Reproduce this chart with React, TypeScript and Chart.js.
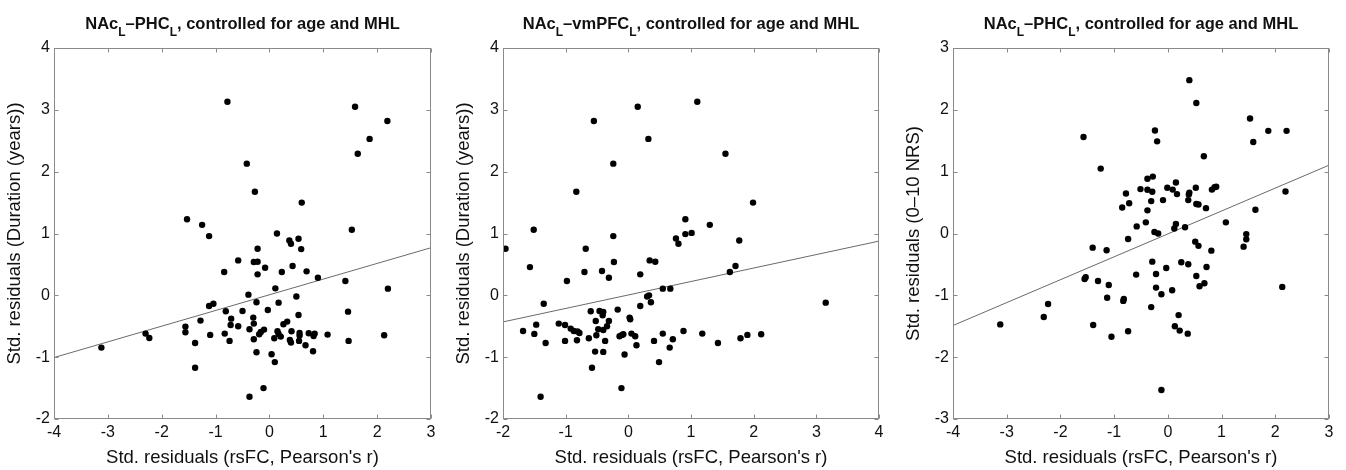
import React, { useEffect, useRef } from "react";
import { Chart, registerables } from "chart.js";

Chart.register(...registerables);

const FONT = '"Liberation Sans", Arial, Helvetica, sans-serif';

// ---------- Panel 1: NAcL–PHCL vs Duration ----------
const p1X = [
  -0.78, 1.59, 2.19, 1.86, 1.64, -0.42, -0.27, 0.6, -1.53, -1.25, 1.53, 0.14,
  -1.12, 0.37, 0.4, 0.54, 0.59, -0.22, -0.58, -0.29, -0.22, -0.08, 0.43, -0.84,
  -0.22, 0.23, 0.69, 0.9, 1.41, 2.2, 0.11, -0.39, 0.5, -1.12, -1.04, -0.24,
  0.17, -0.81, -0.5, -0.03, 1.46, 0.54, -0.71, -0.3, 0.33, 0.26, -1.28, -1.56,
  -1.56, -0.72, -0.58, -0.29, -0.37, -0.1, -0.16, -0.19, 0.15, 0.17, 0.41, 0.56,
  0.56, 0.73, 0.84, 0.82, 1.08, 2.13, -2.3, -2.23, -3.12, -1.1, -0.83, -0.74,
  -1.38, -0.29, 0.09, 0.21, 0.38, 0.4, 0.55, 0.67, 0.81, -0.24, 0.04, 0.1,
  1.47, -1.38, -0.11, -0.37,
];
const p1Y = [
  3.13, 3.05, 2.82, 2.53, 2.29, 2.13, 1.675, 1.5, 1.23, 1.14, 1.06, 1.0,
  0.958, 0.888, 0.834, 0.915, 0.748, 0.753, 0.565, 0.538, 0.544, 0.447, 0.474, 0.377,
  0.339, 0.377, 0.388, 0.285, 0.231, 0.108, 0.113, 0.011, -0.02, -0.172, -0.135, -0.113,
  -0.118, -0.258, -0.253, -0.237, -0.264, -0.318, -0.377, -0.36, -0.425, -0.468, -0.409, -0.506,
  -0.597, -0.479, -0.5, -0.457, -0.549, -0.554, -0.592, -0.63, -0.58, -0.624, -0.58, -0.608,
  -0.651, -0.614, -0.619, -0.657, -0.635, -0.646, -0.619, -0.689, -0.845, -0.64, -0.619, -0.737,
  -0.77, -0.71, -0.694, -0.667, -0.721, -0.764, -0.737, -0.807, -0.904, -0.92, -0.953, -1.08,
  -0.737, -1.17, -1.5, -1.64,
];
const fit1X = [-4, 3];
const fit1Y = [-1.006, 0.77];

// ---------- Panel 2: NAcL–vmPFCL vs Duration ----------
const p2X = [
  1.1, 0.15, -0.55, 0.32, 1.55, -0.24, -0.83, 1.99, 0.91, 1.3, -1.51, 0.91, 1.01,
  -1.96, -0.24, 0.76, 0.8, 1.77, -0.68, -1.57, 0.34, 0.43, -0.23, -0.7, -0.42,
  -0.98, -0.31, 0.19, 1.62, 1.71, 0.55, 0.67, 0.33, 0.3, -1.35, 0.36, 0.19,
  -0.17, 3.15, -0.6, -0.46, -0.4, -0.41, 0.02, 0.03, -0.52, -0.31, -0.34, -1.11,
  -1.47, -1.01, -1.68, -1.5, -0.92, -0.87, -0.81, -0.78, -0.48, -0.4, -0.51, -0.63,
  -0.82, -1.01, -1.32, -0.37, -0.14, -0.08, -0.1, 0.05, 0.11, 0.13, 0.41, 0.55,
  0.71, 0.66, 0.88, 1.18, 1.43, 1.79, 1.9, 2.12, -0.53, -0.4, -0.06, 0.49,
  -0.58, -0.11, -1.4,
];
const p2Y = [
  3.13, 3.05, 2.82, 2.53, 2.29, 2.13, 1.675, 1.5, 1.23, 1.14, 1.06, 0.99, 1.01,
  0.753, 0.958, 0.92, 0.834, 0.888, 0.753, 0.457, 0.565, 0.544, 0.538, 0.377, 0.393,
  0.231, 0.285, 0.339, 0.377, 0.474, 0.108, 0.108, 0.0, -0.02, -0.135, -0.113, -0.172,
  -0.231, -0.118, -0.258, -0.253, -0.269, -0.323, -0.36, -0.387, -0.414, -0.414, -0.5, -0.457,
  -0.474, -0.479, -0.576, -0.624, -0.538, -0.576, -0.586, -0.608, -0.549, -0.56, -0.646, -0.694,
  -0.727, -0.737, -0.77, -0.737, -0.662, -0.63, -0.64, -0.619, -0.662, -0.807, -0.737, -0.619,
  -0.71, -0.845, -0.576, -0.619, -0.77, -0.694, -0.64, -0.63, -0.91, -0.915, -0.958, -1.08,
  -1.17, -1.5, -1.64,
];
const fit2X = [-2, 4];
const fit2Y = [-0.43, 0.877];

// ---------- Panel 3: NAcL–PHCL vs pain (0–10 NRS) ----------
const p3X = [
  0.4, 0.53, 1.53, 1.87, 2.21, 1.59, -1.57, -0.24, -0.2, 0.67, -1.25, 2.19, 1.63, 1.08, 1.46,
  -0.38, -0.28, -0.51, -0.38, -0.29, -0.78, -0.72, -0.85, -0.31, -0.38, -0.41, -0.58, -0.25,
  -0.18, -0.09, -0.01, 0.15, 0.09, 0.17, 0.38, 0.39, 0.4, 0.52, 0.53, 0.57, 0.71, 0.82,
  0.87, 0.9, 0.15, 0.12, 0.32,
  -0.74, -1.4, -1.14, 0.51, 0.57, 0.81, 1.41, 1.46, -0.29, 0.25, 0.38, -0.03, 0.72, -0.22,
  -0.59, 0.53, -1.53, -1.55, -1.3, -1.1, 0.68, 0.59, 2.13, -0.22, 0.08, -0.12, -1.13, -0.82,
  -0.83, -2.23, -0.31, -2.31, 0.2, -3.12, -1.39, 0.13, 0.22, -0.74, 0.37, -1.05, -0.12,
];
const p3Y = [
  2.48, 2.11, 1.86, 1.66, 1.66, 1.48, 1.56, 1.665, 1.49, 1.25, 1.05, 0.68, 0.384, 0.18, -0.01,
  0.885, 0.92, 0.718, 0.707, 0.675, 0.648, 0.49, 0.42, 0.524, 0.374, 0.18, 0.115, 0.024,
  0.0, 0.54, 0.74, 0.825, 0.71, 0.637, 0.54, 0.632, 0.66, 0.74, 0.476, 0.47, 0.41, 0.71,
  0.75, 0.755, 0.153, 0.08, 0.1,
  -0.089, -0.229, -0.272, -0.132, -0.2, -0.277, -0.213, -0.094, -0.455, -0.466, -0.498, -0.557, -0.541, -0.654,
  -0.665, -0.687, -0.708, -0.735, -0.767, -0.832, -0.805, -0.853, -0.864, -0.875, -0.918, -0.982, -1.04, -1.06,
  -1.09, -1.14, -1.19, -1.35, -1.32, -1.47, -1.48, -1.5, -1.57, -1.58, -1.62, -1.67, -2.53,
];
const fit3X = [-4, 3];
const fit3Y = [-1.488, 1.105];

// ---------- ticks & labels ----------
const xTicksA = [-4, -3, -2, -1, 0, 1, 2, 3];
const xTicksB = [-2, -1, 0, 1, 2, 3, 4];
const yTicksA = [-2, -1, 0, 1, 2, 3, 4];
const yTicksB = [-3, -2, -1, 0, 1, 2, 3];

const xTitle = "Std. residuals (rsFC, Pearson's r)";
const yTitle1 = "Std. residuals (Duration (years))";
const yTitle2 = "Std. residuals (Duration (years))";
const yTitle3 = "Std. residuals (0–10 NRS)";

// title segments: [text, isSubscript]
const title1: [string, boolean][] = [["NAc", false], ["L", true], ["–PHC", false], ["L", true], [", controlled for age and MHL", false]];
const title2: [string, boolean][] = [["NAc", false], ["L", true], ["–vmPFC", false], ["L", true], [", controlled for age and MHL", false]];
const title3: [string, boolean][] = [["NAc", false], ["L", true], ["–PHC", false], ["L", true], [", controlled for age and MHL", false]];

type PanelProps = {
  left: number;
  width: number;
  padRight: number;
  xs: number[];
  ys: number[];
  fitX: number[];
  fitY: number[];
  xTicks: number[];
  yTicks: number[];
  title: [string, boolean][];
  yTitle: string;
};

function Panel(props: PanelProps) {
  const ref = useRef<HTMLCanvasElement | null>(null);
  useEffect(() => {
    const canvas = ref.current;
    if (!canvas) return;
    const { xs, ys, fitX, fitY, xTicks, yTicks, title, yTitle, padRight } = props;

    const framePlugin = {
      id: "matlabFrame",
      afterDatasetsDraw(chart: any) {
        const { ctx, chartArea } = chart;
        const l = Math.round(chartArea.left) + 0.5;
        const r = Math.round(chartArea.right) - 0.5;
        const t = Math.round(chartArea.top) + 0.5;
        const b = Math.round(chartArea.bottom) - 0.5;
        ctx.save();
        ctx.strokeStyle = "#8a8a8a";
        ctx.lineWidth = 1;
        ctx.strokeRect(l, t, r - l, b - t);
        const tl = 4;
        ctx.beginPath();
        const xs_ = chart.scales.x;
        const ys_ = chart.scales.y;
        xTicks.forEach((v) => {
          const px = Math.round(xs_.getPixelForValue(v)) + 0.5;
          ctx.moveTo(px, b);
          ctx.lineTo(px, b - tl);
          ctx.moveTo(px, t);
          ctx.lineTo(px, t + tl);
        });
        yTicks.forEach((v) => {
          const py = Math.round(ys_.getPixelForValue(v)) + 0.5;
          ctx.moveTo(l, py);
          ctx.lineTo(l + tl, py);
          ctx.moveTo(r, py);
          ctx.lineTo(r - tl, py);
        });
        ctx.stroke();
        ctx.restore();
      },
    };

    const titlePlugin = {
      id: "subTitle",
      afterDraw(chart: any) {
        const { ctx, chartArea } = chart;
        ctx.save();
        const mainFont = `bold 16.5px ${FONT}`;
        const subFont = `bold 12px ${FONT}`;
        let total = 0;
        const widths = title.map(([txt, sub]) => {
          ctx.font = sub ? subFont : mainFont;
          const w = ctx.measureText(txt).width;
          total += w;
          return w;
        });
        let x = (chartArea.left + chartArea.right) / 2 - total / 2;
        const base = 29;
        ctx.fillStyle = "#111";
        ctx.textBaseline = "alphabetic";
        ctx.textAlign = "left";
        title.forEach(([txt, sub], i) => {
          ctx.font = sub ? subFont : mainFont;
          ctx.fillText(txt, x, sub ? base + 7 : base);
          x += widths[i];
        });
        ctx.restore();
      },
    };

    const chart = new Chart(canvas, {
      type: "scatter",
      data: {
        datasets: [
          {
            data: xs.map((x, i) => ({ x, y: ys[i] })),
            backgroundColor: "#000",
            borderColor: "#000",
            borderWidth: 0,
            pointRadius: 3.2,
            showLine: false,
          },
          {
            data: fitX.map((x, i) => ({ x, y: fitY[i] })),
            borderColor: "#6a6a6a",
            borderWidth: 1,
            pointRadius: 0,
            showLine: true,
            fill: false,
          },
        ],
      },
      options: {
        responsive: false,
        animation: false,
        layout: { padding: { top: 48, right: padRight, bottom: 0, left: 0 } },
        plugins: {
          legend: { display: false },
          tooltip: { enabled: false },
          title: { display: false },
        },
        scales: {
          x: {
            type: "linear",
            min: xTicks[0],
            max: xTicks[xTicks.length - 1],
            afterBuildTicks: (s: any) => {
              s.ticks = xTicks.map((v) => ({ value: v }));
            },
            afterFit: (s: any) => {
              s.height = 51;
            },
            ticks: {
              font: { family: FONT, size: 16 },
              color: "#111",
              padding: 4,
              autoSkip: false,
              maxRotation: 0,
              callback: (v: any) => String(v),
            },
            grid: { display: false, drawTicks: false },
            border: { display: false },
            title: {
              display: true,
              text: xTitle,
              font: { family: FONT, size: 18.5 },
              color: "#111",
              padding: { top: 0, bottom: 1 },
            },
          },
          y: {
            type: "linear",
            min: yTicks[0],
            max: yTicks[yTicks.length - 1],
            afterBuildTicks: (s: any) => {
              s.ticks = yTicks.map((v) => ({ value: v }));
            },
            afterFit: (s: any) => {
              s.width = 54;
            },
            ticks: {
              font: { family: FONT, size: 16 },
              color: "#111",
              padding: 4,
              autoSkip: false,
              callback: (v: any) => String(v),
            },
            grid: { display: false, drawTicks: false },
            border: { display: false },
            title: {
              display: true,
              text: yTitle,
              font: { family: FONT, size: 18.5 },
              color: "#111",
              padding: { top: 4, bottom: 0 },
            },
          },
        },
      },
      plugins: [framePlugin, titlePlugin],
    } as any);
    return () => {
      chart.destroy();
    };
  }, []);
  return (
    <canvas
      ref={ref}
      width={props.width}
      height={470}
      style={{ position: "absolute", left: props.left, top: 0, width: props.width, height: 470, display: "block" }}
    />
  );
}

export default function App() {
  return (
    <div style={{ position: "absolute", left: 0, top: 0, width: 1346, height: 470, background: "#fff", overflow: "hidden" }}>
      <Panel left={0} width={449} padRight={18} xs={p1X} ys={p1Y} fitX={fit1X} fitY={fit1Y} xTicks={xTicksA} yTicks={yTicksA} title={title1} yTitle={yTitle1} />
      <Panel left={449} width={449} padRight={19} xs={p2X} ys={p2Y} fitX={fit2X} fitY={fit2Y} xTicks={xTicksB} yTicks={yTicksA} title={title2} yTitle={yTitle2} />
      <Panel left={899} width={447} padRight={17} xs={p3X} ys={p3Y} fitX={fit3X} fitY={fit3Y} xTicks={xTicksA} yTicks={yTicksB} title={title3} yTitle={yTitle3} />
    </div>
  );
}
